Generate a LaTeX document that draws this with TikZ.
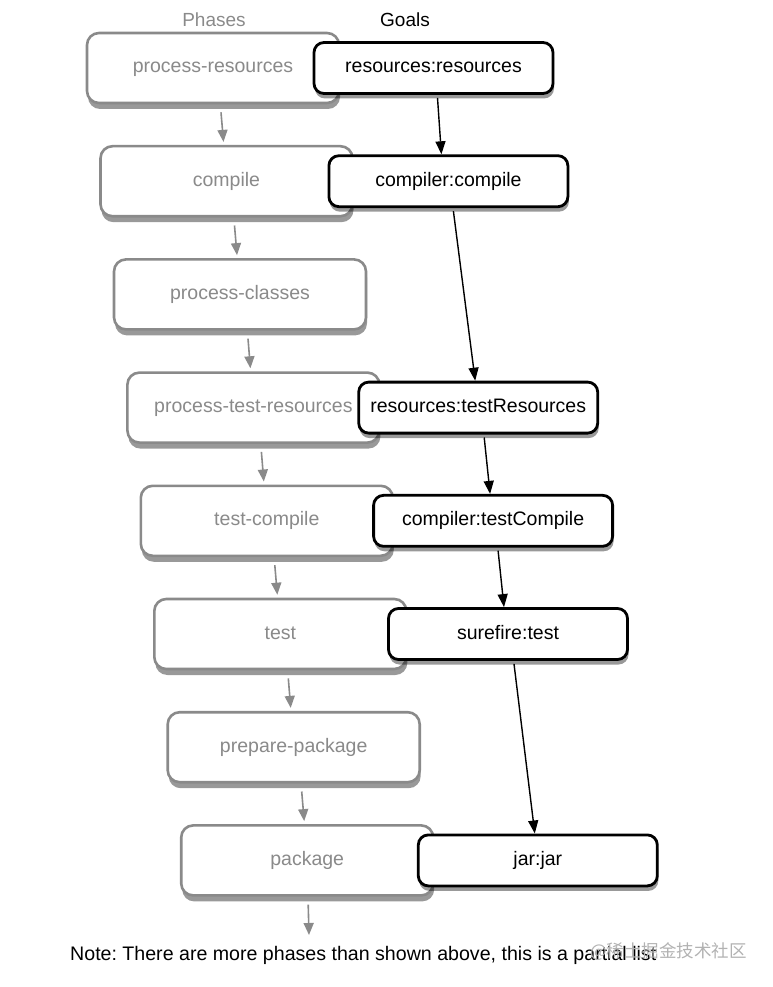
\documentclass[tikz,border=0pt]{standalone}
\usepackage{fontspec}
\setmainfont{Liberation Sans}
\newfontfamily\cjk{Noto Sans CJK SC}
\usetikzlibrary{shadows,arrows.meta}
\definecolor{phgray}{HTML}{8A8A8A}
\definecolor{phtext}{HTML}{8A8A8A}
\frenchspacing
\tikzset{
  phasebox/.style={draw=phgray, line width=2.6pt, fill=white, rounded corners=12pt,
    minimum width=252pt, minimum height=70pt, inner sep=0pt, text=phtext,
    font=\fontsize{19.5}{23}\selectfont, text height=10pt, text depth=0pt,
    drop shadow={shadow xshift=1pt, shadow yshift=-6pt, opacity=0.4, fill=black}},
  goalbox/.style={draw=black, line width=2.8pt, fill=white, rounded corners=10pt,
    minimum width=239pt, minimum height=51pt, inner sep=0pt, text=black,
    font=\fontsize{19.5}{23}\selectfont, text height=10pt, text depth=0pt,
    drop shadow={shadow xshift=1pt, shadow yshift=-5pt, opacity=0.4, fill=black}},
  grayarrow/.style={draw=phgray, line width=1.6pt, -{Triangle[length=12pt,width=10pt]}},
  blackarrow/.style={draw=black, line width=1.4pt, -{Triangle[length=13pt,width=10pt]}},
  hdr/.style={font=\fontsize{19}{22}\selectfont, inner sep=0pt}
}
\begin{document}
\begin{tikzpicture}[x=1pt,y=-1pt]
\useasboundingbox (0,0) rectangle (772,987);
% headers
\node[hdr, text=phtext] (hphases) at (214,20) {Phases};
\node[hdr, text=black] (hgoals) at (405,20) {Goals};
% phases
\node[phasebox] (p0) at (213.0,68.0) {process-resources};
\node[phasebox] (p1) at (226.5,181.2) {compile};
\node[phasebox] (p2) at (240.0,294.4) {process-classes};
\node[phasebox] (p3) at (253.4,407.6) {process-test-resources};
\node[phasebox] (p4) at (266.8,520.8) {test-compile};
\node[phasebox] (p5) at (280.3,634.0) {test};
\node[phasebox] (p6) at (293.7,747.2) {prepare-package};
\node[phasebox] (p7) at (307.2,860.4) {package};
% goals
\node[goalbox] (g0) at (433.5,68.0) {resources:resources};
\node[goalbox] (g1) at (448.4,181.2) {compiler:compile};
\node[goalbox] (g3) at (478.2,407.6) {resources:testResources};
\node[goalbox] (g4) at (493.1,520.8) {compiler:testCompile};
\node[goalbox] (g5) at (508.0,634.0) {surefire:test};
\node[goalbox] (g7) at (537.8,860.4) {jar:jar};
% gray arrows between phases
\foreach \a/\b in {p0/p1,p1/p2,p2/p3,p3/p4,p4/p5,p5/p6,p6/p7}{
  \draw[grayarrow] ([xshift=8pt,yshift=-8pt]\a.south) -- ([xshift=-3pt,yshift=3pt]\b.north);
}
\coordinate (pend) at (309,935);
\draw[grayarrow] ([xshift=1pt,yshift=-8pt]p7.south) -- (pend);
% black arrows between goals
\draw[blackarrow] ([xshift=4pt,yshift=-3pt]g0.south) -- ([xshift=-7pt]g1.north);
\draw[blackarrow] ([xshift=5pt,yshift=-3pt]g1.south) -- ([xshift=-3pt]g3.north);
\draw[blackarrow] ([xshift=6pt,yshift=-3pt]g3.south) -- ([xshift=-3pt]g4.north);
\draw[blackarrow] ([xshift=5pt,yshift=-3pt]g4.south) -- ([xshift=-4pt]g5.north);
\draw[blackarrow] ([xshift=6pt,yshift=-3pt]g5.south) -- ([xshift=-3pt]g7.north);
% note
\node[font=\fontsize{19.6}{23}\selectfont, inner sep=0pt, anchor=west] (note) at (70,955)
  {Note: There are more phases than shown above, this is a partial list};
\node[font=\cjk\fontsize{17.5}{20}\selectfont, text=black!30, inner sep=0pt, anchor=west] (wm) at (590,952)
  {@稀土掘金技术社区};
\end{tikzpicture}
\end{document}
